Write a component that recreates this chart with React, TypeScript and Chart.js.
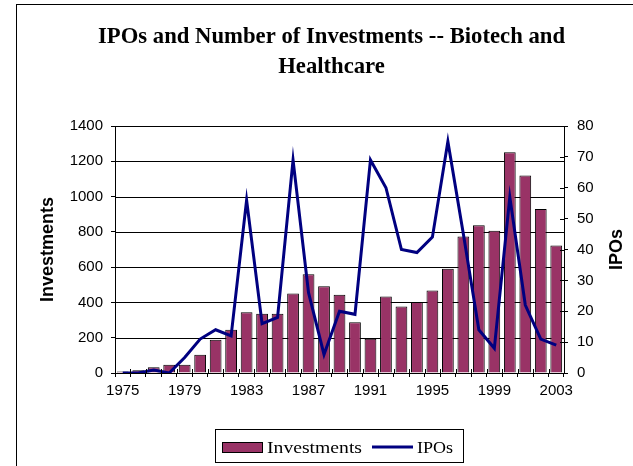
import React, { useEffect, useRef } from 'react';
import { Chart, registerables } from 'chart.js';

Chart.register(...registerables);

const years = [
  '1975', '1976', '1977', '1978', '1979', '1980', '1981', '1982', '1983', '1984',
  '1985', '1986', '1987', '1988', '1989', '1990', '1991', '1992', '1993', '1994',
  '1995', '1996', '1997', '1998', '1999', '2000', '2001', '2002', '2003',
];
const investments = [
  8, 15, 32, 47, 47, 104, 189, 245, 345, 336,
  336, 451, 560, 492, 443, 287, 194, 434, 377, 402,
  468, 591, 774, 838, 806, 1251, 1119, 930, 723,
];
const ipos = [
  0, 0, 1, 0, 5, 11, 14, 12, 56, 16,
  18, 69, 26, 6, 20, 19, 69, 60, 40, 39,
  44, 75, 45, 14, 8, 57, 22, 11, 9,
];
const titleLines = ['IPOs and Number of Investments -- Biotech and', 'Healthcare'];
const leftAxisTitle = 'Investments';
const rightAxisTitle = 'IPOs';
const xLabelStep = 4;

const BAR_COLOR = '#993366';
const LINE_COLOR = '#000080';
const SANS = '"Liberation Sans", Arial, sans-serif';
const SERIF = '"Liberation Serif", "Times New Roman", serif';

function drawStretched(ctx: CanvasRenderingContext2D, text: string, x: number, y: number, targetWidth: number) {
  const w = ctx.measureText(text).width;
  const k = targetWidth / w;
  ctx.save();
  ctx.translate(x, y);
  ctx.scale(k, 1);
  ctx.textAlign = 'left';
  ctx.fillText(text, 0, 0);
  ctx.restore();
}

const gridPlugin = {
  id: 'gridUnder',
  beforeDatasetsDraw(chart: any) {
    const ctx: CanvasRenderingContext2D = chart.ctx;
    const area = chart.chartArea;
    const ys = chart.scales.y;
    ctx.save();
    ctx.strokeStyle = '#000';
    ctx.lineWidth = 1;
    ys.ticks.forEach((t: any) => {
      const py = Math.round(ys.getPixelForValue(t.value)) + 0.5;
      ctx.beginPath();
      ctx.moveTo(area.left, py);
      ctx.lineTo(area.right, py);
      ctx.stroke();
    });
    ctx.restore();
  },
};

const decor = {
  id: 'decor',
  afterDraw(chart: any) {
    const ctx: CanvasRenderingContext2D = chart.ctx;
    const area = chart.chartArea;
    ctx.save();
    // outer frame
    ctx.strokeStyle = '#000';
    ctx.lineWidth = 1;
    ctx.strokeRect(16.5, 4.5, 900, 900);

    // title
    ctx.fillStyle = '#000';
    ctx.font = `bold 23px ${SERIF}`;
    ctx.textBaseline = 'alphabetic';
    const w1 = ctx.measureText(titleLines[0]).width;
    const k = 467 / w1;
    ctx.save();
    ctx.translate(331.5, 43);
    ctx.scale(k, 1);
    ctx.textAlign = 'center';
    ctx.fillText(titleLines[0], 0, 0);
    ctx.fillText(titleLines[1], 0, 30);
    ctx.restore();

    // axis titles
    ctx.font = `bold 18px ${SANS}`;
    ctx.textAlign = 'center';
    ctx.textBaseline = 'middle';
    const midY = (area.top + area.bottom) / 2;
    ctx.save();
    ctx.translate(48, midY);
    ctx.rotate(-Math.PI / 2);
    ctx.fillText(leftAxisTitle, 0, 0);
    ctx.restore();
    ctx.save();
    ctx.translate(617, midY);
    ctx.rotate(-Math.PI / 2);
    ctx.fillText(rightAxisTitle, 0, 0);
    ctx.restore();

    // inward tick marks (cross style)
    ctx.strokeStyle = '#000';
    ctx.lineWidth = 1;
    const y1 = chart.scales.y1;
    y1.ticks.forEach((t: any) => {
      const py = Math.round(y1.getPixelForValue(t.value)) + 0.5;
      ctx.beginPath();
      ctx.moveTo(area.right - 4, py);
      ctx.lineTo(area.right, py);
      ctx.stroke();
    });
    const n = years.length;
    const step = (area.right - area.left) / n;
    for (let i = 1; i < n; i++) {
      const px = Math.round(area.left + i * step) + 0.5;
      ctx.beginPath();
      ctx.moveTo(px, area.bottom - 4);
      ctx.lineTo(px, area.bottom);
      ctx.stroke();
    }

    // legend
    const ds = chart.data.datasets;
    const barDs = ds.find((d: any) => d.type === 'bar');
    const lineDs = ds.find((d: any) => d.type === 'line');
    ctx.strokeStyle = '#000';
    ctx.lineWidth = 1;
    ctx.strokeRect(215.5, 429.5, 248, 33);
    ctx.fillStyle = BAR_COLOR;
    ctx.fillRect(222, 442, 40, 10);
    ctx.strokeRect(222.5, 442.5, 40, 10);
    ctx.fillStyle = '#000';
    ctx.font = `17px ${SERIF}`;
    ctx.textBaseline = 'alphabetic';
    drawStretched(ctx, barDs.label, 267, 453, 95);
    ctx.strokeStyle = LINE_COLOR;
    ctx.lineWidth = 3;
    ctx.beginPath();
    ctx.moveTo(372, 447);
    ctx.lineTo(413, 447);
    ctx.stroke();
    drawStretched(ctx, lineDs.label, 417, 453, 36);
    ctx.restore();
  },
};

export default function App() {
  const ref = useRef<HTMLCanvasElement>(null);
  useEffect(() => {
    document.body.style.margin = '0';
    const canvas = ref.current!;
    const tickFont = { family: SANS, size: 15 };
    const plain = (v: any) => String(v);
    const chart = new Chart(canvas, {
      data: {
        labels: years,
        datasets: [
          {
            type: 'line',
            label: 'IPOs',
            data: ipos,
            yAxisID: 'y1',
            borderColor: LINE_COLOR,
            backgroundColor: LINE_COLOR,
            borderWidth: 3,
            pointRadius: 0,
            tension: 0,
            fill: false,
            order: 0,
          },
          {
            type: 'bar',
            label: 'Investments',
            data: investments,
            yAxisID: 'y',
            backgroundColor: BAR_COLOR,
            borderColor: '#000',
            borderWidth: 1,
            barPercentage: 0.76,
            categoryPercentage: 1,
            order: 1,
          },
        ],
      } as any,
      options: {
        responsive: false,
        animation: false,
        layout: { padding: { left: 28, top: 126, right: 0, bottom: 0 } },
        plugins: {
          legend: { display: false },
          title: { display: false },
          tooltip: { enabled: false },
        },
        scales: {
          x: {
            offset: true,
            grid: { offset: true, drawOnChartArea: false, color: '#000', tickLength: 4 },
            border: { color: '#000' },
            ticks: {
              autoSkip: false,
              maxRotation: 0,
              minRotation: 0,
              padding: 5,
              color: '#000',
              font: tickFont,
              callback: (_v: any, i: number) => (i % xLabelStep === 0 ? years[i] : ''),
            },
            afterFit: (s: any) => { s.height = 93; },
          },
          y: {
            position: 'left',
            min: 0,
            max: 1400,
            ticks: { stepSize: 200, padding: 8, color: '#000', font: tickFont, callback: plain },
            grid: { drawOnChartArea: false, color: '#000', tickLength: 4 },
            border: { color: '#000' },
            afterFit: (s: any) => { s.width = 87; },
          },
          y1: {
            position: 'right',
            min: 0,
            max: 80,
            ticks: { stepSize: 10, padding: 9, color: '#000', font: tickFont, callback: plain },
            grid: { drawOnChartArea: false, color: '#000', tickLength: 4 },
            border: { color: '#000' },
            afterFit: (s: any) => { s.width = 69; },
          },
        },
      } as any,
      plugins: [gridPlugin, decor],
    });
    return () => chart.destroy();
  }, []);
  return (
    <div style={{ width: 633, height: 466, background: '#fff' }}>
      <canvas ref={ref} width={633} height={466} style={{ display: 'block' }} />
    </div>
  );
}
